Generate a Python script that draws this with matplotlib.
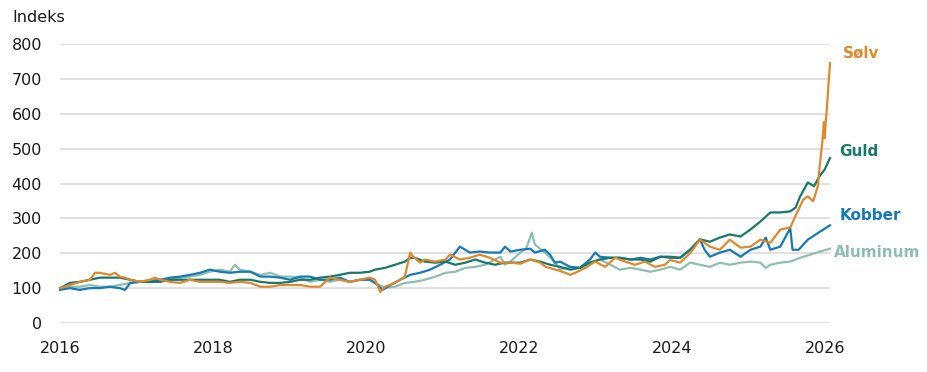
import matplotlib
matplotlib.use("Agg")
import matplotlib.pyplot as plt

# ---- data (index, 2016 = 100) ----
solv_x = [2016.00, 2016.13, 2016.26, 2016.39, 2016.46, 2016.52, 2016.65, 2016.72, 2016.78, 2016.85,
          2016.92, 2017.05, 2017.18, 2017.24, 2017.31, 2017.44, 2017.57, 2017.70, 2017.83, 2017.96,
          2018.09, 2018.22, 2018.35, 2018.49, 2018.62, 2018.75, 2018.88, 2019.01, 2019.14, 2019.27,
          2019.40, 2019.53, 2019.66, 2019.79, 2019.92, 2020.05, 2020.12, 2020.19, 2020.25, 2020.38,
          2020.51, 2020.58, 2020.62, 2020.71, 2020.77, 2020.91, 2021.04, 2021.10, 2021.23, 2021.36,
          2021.49, 2021.62, 2021.76, 2021.89, 2022.02, 2022.15, 2022.28, 2022.35, 2022.48, 2022.61,
          2022.67, 2022.74, 2022.87, 2023.00, 2023.13, 2023.26, 2023.39, 2023.52, 2023.65, 2023.78,
          2023.91, 2023.98, 2024.11, 2024.24, 2024.37, 2024.50, 2024.63, 2024.76, 2024.90, 2025.03,
          2025.16, 2025.29, 2025.42, 2025.55, 2025.64, 2025.72, 2025.78, 2025.85, 2025.91, 2025.94,
          2025.97, 2025.99, 2026.00, 2026.03, 2026.07]
solv = [100, 109, 118, 124, 144, 144, 138, 144, 133, 130,
        124, 118, 124, 130, 124, 118, 115, 124, 118, 118,
        118, 115, 118, 115, 104, 104, 109, 109, 109, 104,
        104, 130, 124, 118, 124, 130, 124, 89, 104, 115,
        133, 202, 190, 173, 182, 176, 182, 196, 182, 187,
        196, 187, 173, 173, 170, 182, 173, 161, 153, 144,
        138, 144, 158, 176, 161, 187, 176, 167, 176, 161,
        167, 181, 173, 200, 239, 219, 210, 239, 216, 219,
        239, 230, 268, 274, 317, 354, 363, 349, 392, 460,
        520, 576, 530, 620, 745]

guld_x = [2016.00, 2016.13, 2016.26, 2016.39, 2016.52, 2016.65, 2016.78, 2016.92, 2017.05, 2017.18,
          2017.31, 2017.44, 2017.57, 2017.70, 2017.83, 2017.96, 2018.09, 2018.22, 2018.35, 2018.49,
          2018.62, 2018.75, 2018.88, 2019.01, 2019.14, 2019.27, 2019.40, 2019.53, 2019.66, 2019.79,
          2019.92, 2020.05, 2020.12, 2020.25, 2020.38, 2020.51, 2020.58, 2020.64, 2020.77, 2020.91,
          2021.04, 2021.17, 2021.30, 2021.43, 2021.56, 2021.69, 2021.82, 2021.95, 2022.02, 2022.15,
          2022.28, 2022.41, 2022.54, 2022.67, 2022.80, 2022.93, 2023.06, 2023.20, 2023.32, 2023.46,
          2023.59, 2023.72, 2023.85, 2023.98, 2024.11, 2024.24, 2024.37, 2024.50, 2024.63, 2024.76,
          2024.90, 2025.03, 2025.16, 2025.29, 2025.42, 2025.55, 2025.62, 2025.68, 2025.78, 2025.86,
          2025.93, 2026.00, 2026.07]
guld = [100, 115, 118, 124, 130, 130, 130, 124, 118, 118,
        118, 124, 124, 124, 124, 124, 124, 118, 124, 124,
        118, 115, 115, 118, 124, 124, 130, 133, 138, 144,
        144, 147, 153, 158, 167, 176, 187, 187, 176, 173,
        176, 167, 173, 182, 173, 167, 173, 173, 173, 182,
        176, 167, 161, 153, 158, 173, 182, 187, 187, 182,
        182, 176, 190, 190, 187, 210, 240, 233, 245, 254,
        248, 268, 291, 317, 317, 320, 331, 363, 403, 392,
        420, 440, 473]

kobber_x = [2016.00, 2016.13, 2016.26, 2016.39, 2016.52, 2016.65, 2016.78, 2016.85, 2016.92, 2017.05,
            2017.18, 2017.31, 2017.44, 2017.57, 2017.70, 2017.83, 2017.96, 2018.09, 2018.22, 2018.35,
            2018.49, 2018.62, 2018.75, 2018.88, 2019.01, 2019.14, 2019.27, 2019.40, 2019.53, 2019.66,
            2019.79, 2019.92, 2020.05, 2020.12, 2020.22, 2020.32, 2020.45, 2020.58, 2020.71, 2020.84,
            2020.97, 2021.10, 2021.23, 2021.36, 2021.49, 2021.62, 2021.76, 2021.82, 2021.89, 2022.02,
            2022.15, 2022.21, 2022.34, 2022.41, 2022.47, 2022.54, 2022.67, 2022.80, 2022.93, 2023.00,
            2023.06, 2023.20, 2023.32, 2023.46, 2023.59, 2023.72, 2023.85, 2023.98, 2024.11, 2024.24,
            2024.37, 2024.43, 2024.50, 2024.63, 2024.76, 2024.90, 2025.03, 2025.16, 2025.23, 2025.29,
            2025.42, 2025.55, 2025.58, 2025.66, 2025.78, 2025.94, 2026.07]
kobber = [95, 100, 95, 100, 100, 104, 100, 95, 115, 118,
          118, 124, 130, 133, 138, 144, 153, 147, 144, 147,
          147, 133, 133, 130, 124, 133, 133, 124, 124, 130,
          118, 124, 124, 115, 95, 109, 124, 138, 144, 153,
          167, 182, 219, 202, 205, 202, 202, 219, 205, 210,
          213, 202, 210, 196, 173, 176, 161, 158, 182, 202,
          190, 187, 187, 182, 187, 182, 190, 187, 187, 210,
          239, 210, 190, 202, 210, 190, 210, 219, 245, 210,
          219, 272, 210, 210, 239, 262, 280]

alu_x = [2016.00, 2016.13, 2016.26, 2016.39, 2016.52, 2016.65, 2016.78, 2016.92, 2017.05, 2017.18,
         2017.31, 2017.44, 2017.57, 2017.70, 2017.83, 2017.96, 2018.09, 2018.22, 2018.29, 2018.35,
         2018.49, 2018.62, 2018.75, 2018.88, 2019.01, 2019.14, 2019.27, 2019.40, 2019.53, 2019.66,
         2019.79, 2019.92, 2020.05, 2020.12, 2020.25, 2020.38, 2020.51, 2020.64, 2020.77, 2020.91,
         2021.04, 2021.17, 2021.30, 2021.43, 2021.56, 2021.69, 2021.76, 2021.82, 2021.89, 2022.02,
         2022.10, 2022.17, 2022.21, 2022.34, 2022.47, 2022.54, 2022.67, 2022.80, 2022.93, 2023.06,
         2023.20, 2023.32, 2023.46, 2023.59, 2023.72, 2023.85, 2023.98, 2024.11, 2024.24, 2024.37,
         2024.50, 2024.63, 2024.76, 2024.90, 2025.03, 2025.16, 2025.23, 2025.29, 2025.42, 2025.55,
         2025.68, 2025.81, 2025.94, 2026.07]
alu = [100, 104, 104, 109, 104, 104, 109, 115, 118, 124,
       124, 124, 130, 133, 138, 147, 153, 147, 167, 153,
       147, 138, 144, 133, 133, 130, 118, 124, 118, 124,
       118, 124, 124, 115, 101, 104, 115, 118, 124, 133,
       144, 147, 158, 161, 167, 182, 190, 167, 176, 202,
       215, 259, 225, 202, 176, 153, 161, 158, 173, 182,
       167, 153, 158, 153, 147, 153, 161, 153, 173, 167,
       161, 173, 167, 173, 176, 173, 158, 167, 173, 176,
       187, 196, 205, 213]

names = ["Aluminum", "Kobber", "Guld", "Sølv"]
label_y = [203, 307, 493, 774]
x_ticks = [2016, 2018, 2020, 2022, 2024, 2026]
y_ticks = [0, 100, 200, 300, 400, 500, 600, 700, 800]

colors = {"Sølv": "#e0892c", "Guld": "#17796a", "Kobber": "#157ab6", "Aluminum": "#8dbfb1"}
series = {"Aluminum": (alu_x, alu), "Kobber": (kobber_x, kobber),
          "Guld": (guld_x, guld), "Sølv": (solv_x, solv)}
label_dx = {"Sølv": 9, "Guld": 7, "Kobber": 7, "Aluminum": 3}

plt.rcParams["font.family"] = ["DejaVu Sans"]

fig = plt.figure(figsize=(9.28, 3.72), dpi=100)
ax = fig.add_axes([60 / 928, 1 - 323 / 372, (830 - 60) / 928, (323 - 44) / 372])

for i, name in enumerate(names):
    xs, ys = series[name]
    ax.plot(xs, ys, color=colors[name], lw=1.6, zorder=3 + i, clip_on=False,
            solid_joinstyle="round")
    ax.annotate(name, xy=(xs[-1], label_y[i]), xytext=(label_dx[name], 0),
                textcoords="offset points", va="center", ha="left",
                color=colors[name], fontsize=11, fontweight="semibold",
                annotation_clip=False)

ax.set_xlim(2016, 2026.07)
ax.set_ylim(0, 800)
ax.set_yticks(y_ticks)
ax.set_xticks(x_ticks)
ax.set_xticklabels([str(t) for t in x_ticks])
ax.grid(axis="y", color="#dcdcdc", lw=1.2, zorder=0)
ax.grid(axis="x", visible=False)
for s in ax.spines.values():
    s.set_visible(False)
ax.tick_params(axis="both", length=0, labelsize=11.5, colors="#1a1a1a")
ax.tick_params(axis="y", pad=13)
ax.tick_params(axis="x", pad=13)

fig.text(12 / 928, 1 - 18 / 372, "Indeks", fontsize=11.5, color="#1a1a1a",
         ha="left", va="center")

fig.savefig("out.png", dpi=100)
